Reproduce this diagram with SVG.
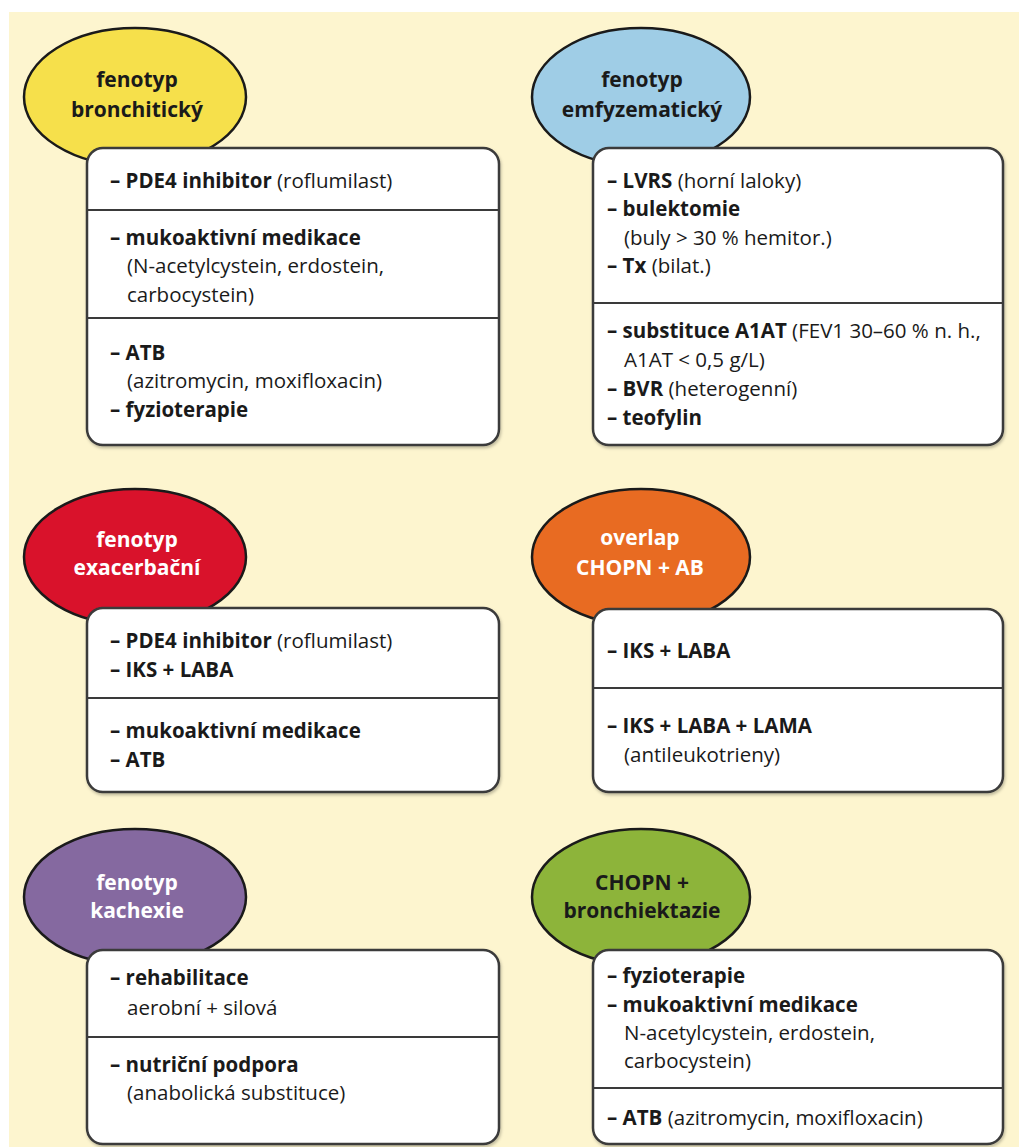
<svg xmlns="http://www.w3.org/2000/svg" width="1019" height="1147" viewBox="0 0 1019 1147">
<defs>
<style>
text{font-family:"Open Sans","Noto Sans","Liberation Sans",sans-serif;font-size:20.5px;fill:#1a1a1a}
.b{font-weight:bold}
.t{font-weight:bold;font-size:21px;text-anchor:middle}
.w{fill:#ffffff}
.ell{stroke:#1a1a1a;stroke-width:2.5}
.box{fill:#ffffff;stroke:#3a3a3a;stroke-width:2.5}
.div{stroke:#3a3a3a;stroke-width:2}
</style>
<filter id="sh" x="-5%" y="-5%" width="110%" height="110%">
<feDropShadow dx="1" dy="2" stdDeviation="1.5" flood-color="#000" flood-opacity="0.25"/>
</filter>
</defs>
<rect x="0" y="0" width="1019" height="1147" fill="#ffffff"/>
<rect x="9" y="12" width="1010" height="1135" fill="#fdf5cf"/>
<g id="connectors"/>

<g id="bronchiticky">
<ellipse class="ell" cx="135" cy="97" rx="111" ry="69" fill="#f6e04b"/>
<text class="t" x="137" y="87">fenotyp</text>
<text class="t" x="137" y="117">bronchitický</text>
<rect class="box" filter="url(#sh)" x="87" y="148" width="412" height="297" rx="16"/>
<line class="div" x1="88" y1="210" x2="498" y2="210"/>
<line class="div" x1="88" y1="318" x2="498" y2="318"/>
<text x="110" y="188"><tspan class="b">– PDE4 inhibitor</tspan> (roflumilast)</text>
<text x="110" y="245" class="b">– mukoaktivní medikace</text>
<text x="127" y="273">(N-acetylcystein, erdostein,</text>
<text x="127" y="302">carbocystein)</text>
<text x="110" y="360" class="b">– ATB</text>
<text x="127" y="388">(azitromycin, moxifloxacin)</text>
<text x="110" y="417" class="b">– fyzioterapie</text>
</g>

<g id="emfyzematicky">
<ellipse class="ell" cx="641" cy="97" rx="109" ry="69" fill="#9fcde6"/>
<text class="t" x="642" y="87">fenotyp</text>
<text class="t" x="642" y="117">emfyzematický</text>
<rect class="box" filter="url(#sh)" x="593" y="148" width="410" height="297" rx="16"/>
<line class="div" x1="594" y1="303" x2="1002" y2="303"/>
<text x="607" y="188"><tspan class="b">– LVRS</tspan> (horní laloky)</text>
<text x="607" y="216" class="b">– bulektomie</text>
<text x="624" y="245">(buly &gt; 30 % hemitor.)</text>
<text x="607" y="273"><tspan class="b">– Tx</tspan> (bilat.)</text>
<text x="607" y="338"><tspan class="b">– substituce A1AT</tspan> (FEV1 30–60 % n. h.,</text>
<text x="624" y="367">A1AT &lt; 0,5 g/L)</text>
<text x="607" y="396"><tspan class="b">– BVR</tspan> (heterogenní)</text>
<text x="607" y="425" class="b">– teofylin</text>
</g>

<g id="exacerbacni">
<ellipse class="ell" cx="135" cy="557" rx="111" ry="68" fill="#d9122b"/>
<text class="t w" x="137" y="547">fenotyp</text>
<text class="t w" x="137" y="575">exacerbační</text>
<rect class="box" filter="url(#sh)" x="87" y="608" width="412" height="184" rx="16"/>
<line class="div" x1="88" y1="698" x2="498" y2="698"/>
<text x="110" y="648"><tspan class="b">– PDE4 inhibitor</tspan> (roflumilast)</text>
<text x="110" y="677" class="b">– IKS + LABA</text>
<text x="110" y="738" class="b">– mukoaktivní medikace</text>
<text x="110" y="767" class="b">– ATB</text>
</g>

<g id="overlap">
<ellipse class="ell" cx="641" cy="557" rx="109" ry="68" fill="#e86b22"/>
<text class="t w" x="640" y="545">overlap</text>
<text class="t w" x="640" y="575">CHOPN + AB</text>
<rect class="box" filter="url(#sh)" x="593" y="609" width="410" height="183" rx="16"/>
<line class="div" x1="594" y1="688" x2="1002" y2="688"/>
<text x="607" y="658" class="b">– IKS + LABA</text>
<text x="607" y="733" class="b">– IKS + LABA + LAMA</text>
<text x="624" y="762">(antileukotrieny)</text>
</g>

<g id="kachexie">
<ellipse class="ell" cx="135" cy="897" rx="111" ry="68" fill="#8569a0"/>
<text class="t w" x="137" y="890">fenotyp</text>
<text class="t w" x="137" y="918">kachexie</text>
<rect class="box" filter="url(#sh)" x="87" y="950" width="412" height="194" rx="16"/>
<line class="div" x1="88" y1="1037" x2="498" y2="1037"/>
<text x="110" y="985" class="b">– rehabilitace</text>
<text x="127" y="1015">aerobní + silová</text>
<text x="110" y="1072" class="b">– nutriční podpora</text>
<text x="127" y="1100">(anabolická substituce)</text>
</g>

<g id="bronchiektazie">
<ellipse class="ell" cx="641" cy="897" rx="109" ry="68" fill="#8db43a"/>
<text class="t" x="642" y="890">CHOPN +</text>
<text class="t" x="642" y="918">bronchiektazie</text>
<rect class="box" filter="url(#sh)" x="593" y="950" width="410" height="194" rx="16"/>
<line class="div" x1="594" y1="1088" x2="1002" y2="1088"/>
<text x="607" y="983" class="b">– fyzioterapie</text>
<text x="607" y="1012" class="b">– mukoaktivní medikace</text>
<text x="624" y="1040">N-acetylcystein, erdostein,</text>
<text x="624" y="1068">carbocystein)</text>
<text x="607" y="1125"><tspan class="b">– ATB</tspan> (azitromycin, moxifloxacin)</text>
</g>
</svg>
